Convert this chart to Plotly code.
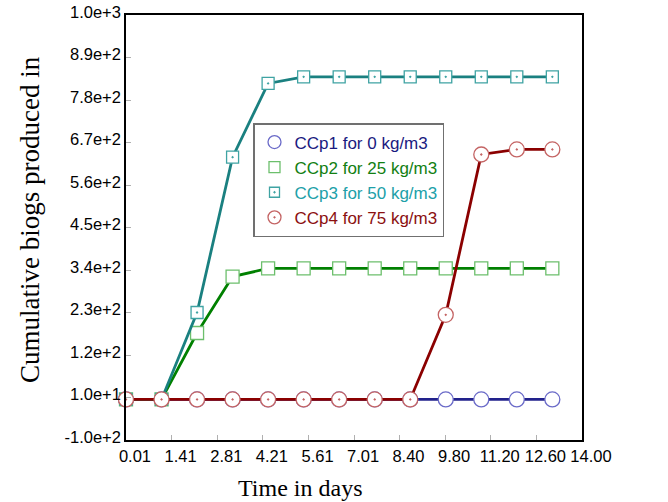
import plotly.graph_objects as go

# Data
days = [0.01, 1.10, 2.19, 3.28, 4.37, 5.46, 6.55, 7.64, 8.73, 9.82, 10.91, 12.00, 13.09]
ccp1 = [5, 5, 5, 5, 5, 5, 5, 5, 5, 5, 5, 5, 5]
ccp2 = [5, 5, 177, 323, 344, 344, 344, 344, 344, 344, 344, 344, 344]
ccp3 = [5, 5, 230, 632, 823, 840, 840, 840, 840, 840, 840, 840, 840]
ccp4 = [5, 5, 5, 5, 5, 5, 5, 5, 5, 224, 639, 652, 652]

names = ["CCp1 for 0 kg/m3", "CCp2 for 25 kg/m3", "CCp3 for 50 kg/m3", "CCp4 for 75 kg/m3"]

x_tickvals = [0.01, 1.41, 2.81, 4.21, 5.61, 7.01, 8.40, 9.80, 11.20, 12.60, 14.00]
x_ticktext = ["0.01", "1.41", "2.81", "4.21", "5.61", "7.01", "8.40", "9.80", "11.20", "12.60", "14.00"]
y_tickvals = [-100, 10, 120, 230, 340, 450, 560, 670, 780, 890, 1000]
y_ticktext = ["-1.0e+2", "1.0e+1", "1.2e+2", "2.3e+2", "3.4e+2", "4.5e+2", "5.6e+2",
              "6.7e+2", "7.8e+2", "8.9e+2", "1.0e+3"]

series = [ccp1, ccp2, ccp3, ccp4]
line_colors = ["#22228c", "#008000", "#1a8080", "#8b0000"]
edge_colors = ["#6a6ac8", "#6cbf6c", "#3fa3a3", "#c46464"]
text_colors = ["#1a1a80", "#128012", "#20a0a8", "#8b1010"]
symbols = ["circle", "square", "square-dot", "circle-dot"]
sizes = [15, 13, 12, 15]

fig = go.Figure()
for ys, lc, ec, sym, sz in zip(series, line_colors, edge_colors, symbols, sizes):
    fig.add_trace(go.Scatter(
        x=days, y=ys, mode="lines+markers", showlegend=False, cliponaxis=False,
        line=dict(color=lc, width=2.8),
        marker=dict(symbol=sym, size=sz, color="white", line=dict(color=ec, width=1.3)),
    ))

# legend-only entries (markers only, no line sample)
for nm, tc, ec, sym, sz in zip(names, text_colors, edge_colors, symbols, sizes):
    fig.add_trace(go.Scatter(
        x=[None], y=[None], mode="markers",
        name=f"<span style='color:{tc}'>{nm}</span>",
        marker=dict(symbol=sym, size=sz - 2, color="white", line=dict(color=ec, width=1.3)),
    ))

axis_common = dict(
    showline=True, linecolor="black", linewidth=1.5, mirror=True, automargin=False,
    ticks="inside", ticklen=5, tickcolor="#b0b0b0", showgrid=False, zeroline=False,
    tickfont=dict(family="Liberation Sans, Arial, sans-serif", size=16.5, color="black"),
)

fig.update_layout(
    template="none",
    width=668, height=502,
    margin=dict(l=126, r=86, t=15, b=62, pad=0),
    paper_bgcolor="white", plot_bgcolor="white",
    xaxis=dict(range=[0.01, 14.0], tickvals=x_tickvals, ticktext=x_ticktext,
               ticklabelshift=9, **axis_common),
    yaxis=dict(range=[-100, 1000], tickvals=y_tickvals, ticktext=y_ticktext,
               ticklabelshift=-3, **axis_common),
    legend=dict(x=(253 - 126) / 456, y=(440 - 123) / 425, xanchor="left", yanchor="top",
                bgcolor="white", bordercolor="#707070", borderwidth=1.5,
                font=dict(family="Liberation Sans, Arial, sans-serif", size=17),
                itemsizing="trace", tracegroupgap=0, entrywidth=168),
    annotations=[
        dict(text="Time in days", xref="paper", yref="paper", x=(300 - 126) / 456,
             y=(440 - 488) / 425,
             xanchor="center", yanchor="middle", showarrow=False,
             font=dict(family="Liberation Serif, Times New Roman, serif", size=24, color="black")),
        dict(text="Cumulative biogs produced in", xref="paper", yref="paper",
             x=(30 - 126) / 456, y=(440 - 220) / 425, textangle=-90,
             xanchor="center", yanchor="middle", showarrow=False,
             font=dict(family="Liberation Serif, Times New Roman, serif", size=27, color="black")),
    ],
)

fig.write_html("out.html", config={"displayModeBar": False},
               post_script="document.body.style.margin='0px';")
